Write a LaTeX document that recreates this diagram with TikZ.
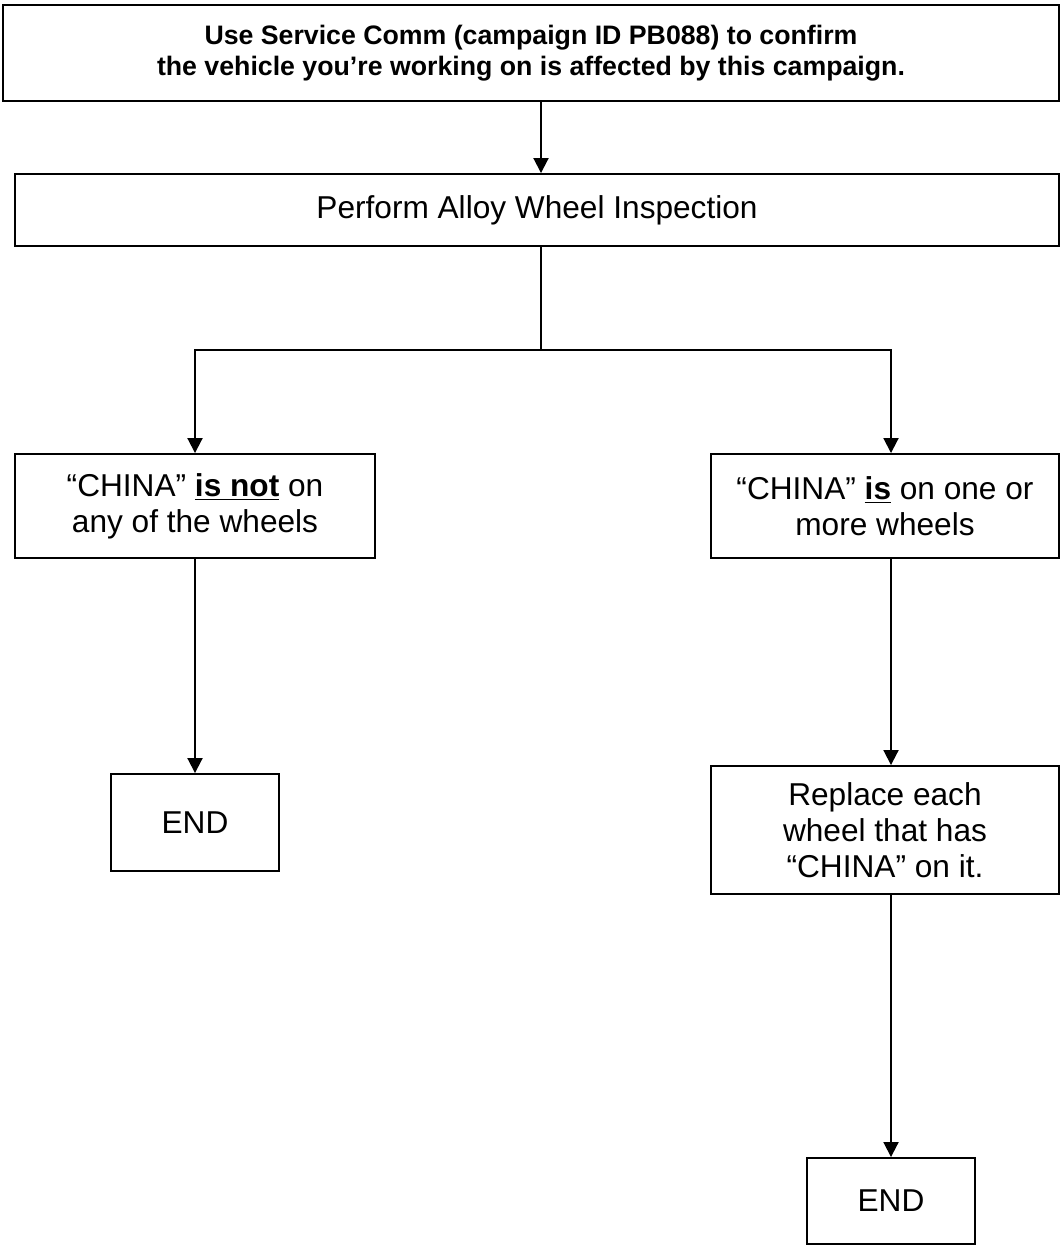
\documentclass[tikz,border=0pt]{standalone}
\usepackage{fontspec}
\setmainfont{Liberation Sans}
\usetikzlibrary{arrows.meta}

\begin{document}
\begin{tikzpicture}[x=0.02cm,y=-0.02cm,
    box/.style={draw,line width=1.1pt,inner sep=0pt,align=center,
        font=\fontsize{18}{20.5}\selectfont},
    arr/.style={line width=1.1pt,-{Triangle[length=0.3cm,width=0.3cm]}},
    ln/.style={line width=1.1pt}
]
\useasboundingbox (0,0) rectangle (1060,1254);

\node[box,minimum width=21.12cm,minimum height=1.92cm,
    font=\bfseries\fontsize{15.2}{17.5}\selectfont] (confirm) at (531,53)
    {Use Service Comm (campaign ID PB088) to confirm\\
     the vehicle you’re working on is affected by this campaign.};

\node[box,minimum width=20.88cm,minimum height=1.44cm] (inspect) at (537,210)
    {Perform Alloy Wheel Inspection};

\node[box,minimum width=7.2cm,minimum height=2.08cm] (notchina) at (195,506)
    {“CHINA” \textbf{\underline{is not}} on\\ any of the wheels};

\node[box,minimum width=6.96cm,minimum height=2.08cm] (ischina) at (885,506)
    {“CHINA” \textbf{\underline{is}} on one or\\ more wheels};

\node[box,minimum width=6.96cm,minimum height=2.56cm] (replace) at (885,830)
    {Replace each\\ wheel that has\\ “CHINA” on it.};

\node[box,minimum width=3.36cm,minimum height=1.94cm] (endl) at (195,822.5) {END};
\node[box,minimum width=3.36cm,minimum height=1.72cm] (endr) at (891,1201) {END};

\coordinate (split) at (541,350);
\coordinate (rcol) at (891,350);

\draw[arr] (confirm.south -| split) -- (inspect.north -| split);
\draw[ln] (inspect.south -| split) -- (split);
\draw[arr] (split) -| (notchina.north);
\draw[arr] (split) -| (ischina.north -| rcol);

\draw[arr] (notchina.south) -- (endl.north);
\draw[arr] (ischina.south -| rcol) -- (replace.north -| rcol);
\draw[arr] (replace.south -| rcol) -- (endr.north -| rcol);
\end{tikzpicture}
\end{document}
